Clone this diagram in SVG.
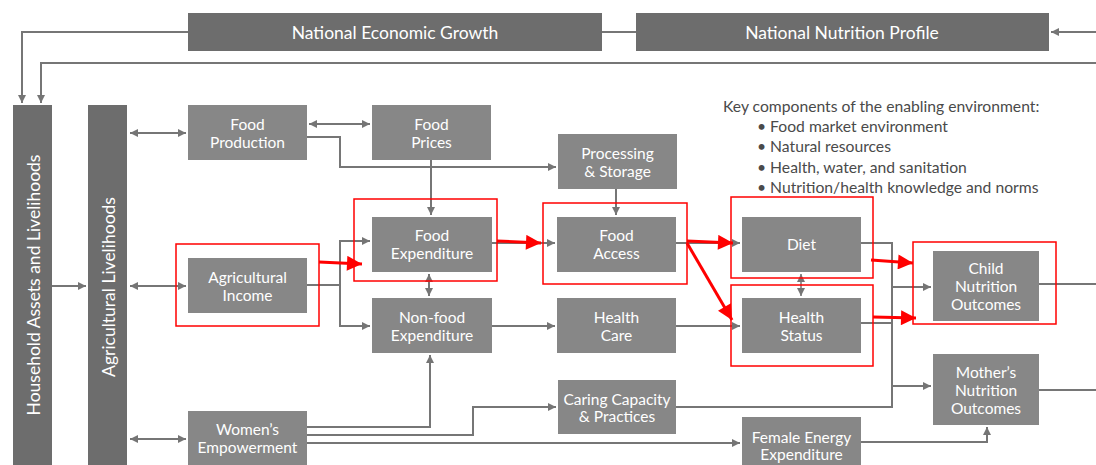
<svg xmlns="http://www.w3.org/2000/svg" width="1096" height="465" viewBox="0 0 1096 465">
<defs>
<marker id="ag" viewBox="0 0 10 10" refX="10" refY="5" markerWidth="8" markerHeight="8" markerUnits="userSpaceOnUse" orient="auto-start-reverse"><path d="M0,0 L10,5 L0,10 z" fill="#757575"/></marker>
<marker id="ar" viewBox="0 0 10 10" refX="10" refY="5" markerWidth="17" markerHeight="15" markerUnits="userSpaceOnUse" orient="auto"><path d="M0,0 L10,5 L0,10 z" fill="#ff0000"/></marker>
</defs>
<style>
.dk{fill:#6d6d6d}
.bx{fill:#878787}
.t{font-family:Lato,"Open Sans","DejaVu Sans",sans-serif;font-size:15.5px;fill:#ffffff;text-anchor:middle;dominant-baseline:central}
.tl{font-size:17.5px}
.c{fill:none;stroke:#767676;stroke-width:2}
.a{marker-end:url(#ag)}
.d{marker-start:url(#ag);marker-end:url(#ag)}
.r{fill:none;stroke:#ff0000;stroke-width:1.5}
.ra{fill:none;stroke:#ff0000;stroke-width:3;marker-end:url(#ar)}
.k{font-family:Lato,"Open Sans","DejaVu Sans",sans-serif;font-size:15.7px;fill:#4a4a4a}
</style>
<rect width="1096" height="465" fill="#ffffff"/>
<g id="connectors">
<path class="c" d="M602,32 H636"/>
<path class="c a" d="M188,32 H22 V103"/>
<path class="c a" d="M1096,32 H1051"/>
<path class="c a" d="M1096,63 H41 V103"/>
<path class="c a" d="M52,286 H86"/>
<path class="c d" d="M130,133 H186"/>
<path class="c d" d="M130,286 H186"/>
<path class="c d" d="M130,439 H186"/>
<path class="c d" d="M309,124 H370"/>
<path class="c a" d="M307,137 H340 V167 H556"/>
<path class="c a" d="M431,160 V215"/>
<path class="c a" d="M616,189 V215"/>
<path class="c" d="M307,285 H340"/>
<path class="c a" d="M340,285 V241 H370"/>
<path class="c a" d="M340,285 V326 H370"/>
<path class="c d" d="M429,274 V296"/>
<path class="c a" d="M492,243 H555"/>
<path class="c a" d="M492,326 H555"/>
<path class="c a" d="M676,243 H740"/>
<path class="c a" d="M676,326 H740"/>
<path class="c d" d="M801,274 V296" style="stroke-width:1.5"/>
<path class="c" d="M861,243 H892 V407 H676"/>
<path class="c" d="M861,323 H892"/>
<path class="c a" d="M892,287 H931"/>
<path class="c a" d="M892,386 H931"/>
<path class="c" d="M1039,284 H1096"/>
<path class="c" d="M1039,390 H1096"/>
<path class="c a" d="M861,442 H987 V427"/>
<path class="c a" d="M307,427 H430 V355"/>
<path class="c a" d="M307,435 H473 V407 H556"/>
<path class="c a" d="M307,443 H740"/>
</g>
<g id="nodes">
<g id="n-neg"><rect class="dk" x="188" y="13" width="414" height="38"/><text class="t tl" x="395" y="32">National Economic Growth</text></g>
<g id="n-nnp"><rect class="dk" x="636" y="13" width="413" height="38"/><text class="t tl" x="842" y="32">National Nutrition Profile</text></g>
<g id="n-household"><rect class="dk" x="13" y="105" width="39" height="365"/><text class="t tl" transform="translate(33,285) rotate(-90)">Household Assets and Livelihoods</text></g>
<g id="n-agri"><rect class="dk" x="88" y="105" width="39" height="365"/><text class="t tl" transform="translate(108,287) rotate(-90)">Agricultural Livelihoods</text></g>
<g id="n-foodprod"><rect class="bx" x="188" y="105" width="119" height="55"/><text class="t" x="247.5" y="124">Food</text><text class="t" x="247.5" y="142">Production</text></g>
<g id="n-foodprices"><rect class="bx" x="372" y="105" width="119" height="55"/><text class="t" x="431.5" y="124">Food</text><text class="t" x="431.5" y="142">Prices</text></g>
<g id="n-processing"><rect class="bx" x="558" y="134" width="119" height="55"/><text class="t" x="617.5" y="153">Processing</text><text class="t" x="617.5" y="171">&amp; Storage</text></g>
<g id="n-foodexp"><rect class="bx" x="372" y="217" width="120" height="55"/><text class="t" x="432" y="235">Food</text><text class="t" x="432" y="253">Expenditure</text></g>
<g id="n-foodaccess"><rect class="bx" x="557" y="217" width="119" height="55"/><text class="t" x="616.5" y="235">Food</text><text class="t" x="616.5" y="253">Access</text></g>
<g id="n-diet"><rect class="bx" x="742" y="217" width="119" height="55"/><text class="t" x="801.5" y="244">Diet</text></g>
<g id="n-agincome"><rect class="bx" x="188" y="258" width="119" height="55"/><text class="t" x="247.5" y="277">Agricultural</text><text class="t" x="247.5" y="295">Income</text></g>
<g id="n-nonfood"><rect class="bx" x="372" y="298" width="120" height="55"/><text class="t" x="432" y="317">Non-food</text><text class="t" x="432" y="335">Expenditure</text></g>
<g id="n-healthcare"><rect class="bx" x="557" y="298" width="119" height="55"/><text class="t" x="616.5" y="317">Health</text><text class="t" x="616.5" y="335">Care</text></g>
<g id="n-healthstatus"><rect class="bx" x="742" y="298" width="119" height="55"/><text class="t" x="801.5" y="317">Health</text><text class="t" x="801.5" y="335">Status</text></g>
<g id="n-child"><rect class="bx" x="933" y="251" width="106" height="70"/><text class="t" x="986" y="268">Child</text><text class="t" x="986" y="286">Nutrition</text><text class="t" x="986" y="304">Outcomes</text></g>
<g id="n-mother"><rect class="bx" x="933" y="354" width="106" height="71"/><text class="t" x="986" y="372">Mother’s</text><text class="t" x="986" y="390">Nutrition</text><text class="t" x="986" y="408">Outcomes</text></g>
<g id="n-caring"><rect class="bx" x="558" y="380" width="118" height="54"/><text class="t" x="617" y="399">Caring Capacity</text><text class="t" x="617" y="416">&amp; Practices</text></g>
<g id="n-female"><rect class="bx" x="742" y="417" width="119" height="56"/><text class="t" x="801.5" y="437">Female Energy</text><text class="t" x="801.5" y="454">Expenditure</text></g>
<g id="n-women"><rect class="bx" x="188" y="411" width="119" height="56"/><text class="t" x="247.5" y="429">Women’s</text><text class="t" x="247.5" y="447">Empowerment</text></g>
</g>
<g id="highlights">
<rect class="r" x="176" y="244" width="143" height="82"/>
<rect class="r" x="354" y="199" width="143" height="82"/>
<rect class="r" x="543" y="203" width="144" height="81"/>
<rect class="r" x="731" y="197" width="142" height="81"/>
<rect class="r" x="731" y="285" width="142" height="81"/>
<rect class="r" x="913" y="242" width="143" height="82"/>
<path class="ra" d="M319,262 L362,264"/>
<path class="ra" d="M497,241 L541,243"/>
<path class="ra" d="M687,241 L733,243"/>
<path class="ra" d="M687,243 L732,320"/>
<path class="ra" d="M871,260 L913,263"/>
<path class="ra" d="M873,317 L916,318"/>
</g>
<g id="key">
<text class="k" x="723" y="112">Key components of the enabling environment:</text>
<text class="k" x="757" y="132">• Food market environment</text>
<text class="k" x="757" y="152">• Natural resources</text>
<text class="k" x="757" y="173">• Health, water, and sanitation</text>
<text class="k" x="757" y="193">• Nutrition/health knowledge and norms</text>
</g>
</svg>
